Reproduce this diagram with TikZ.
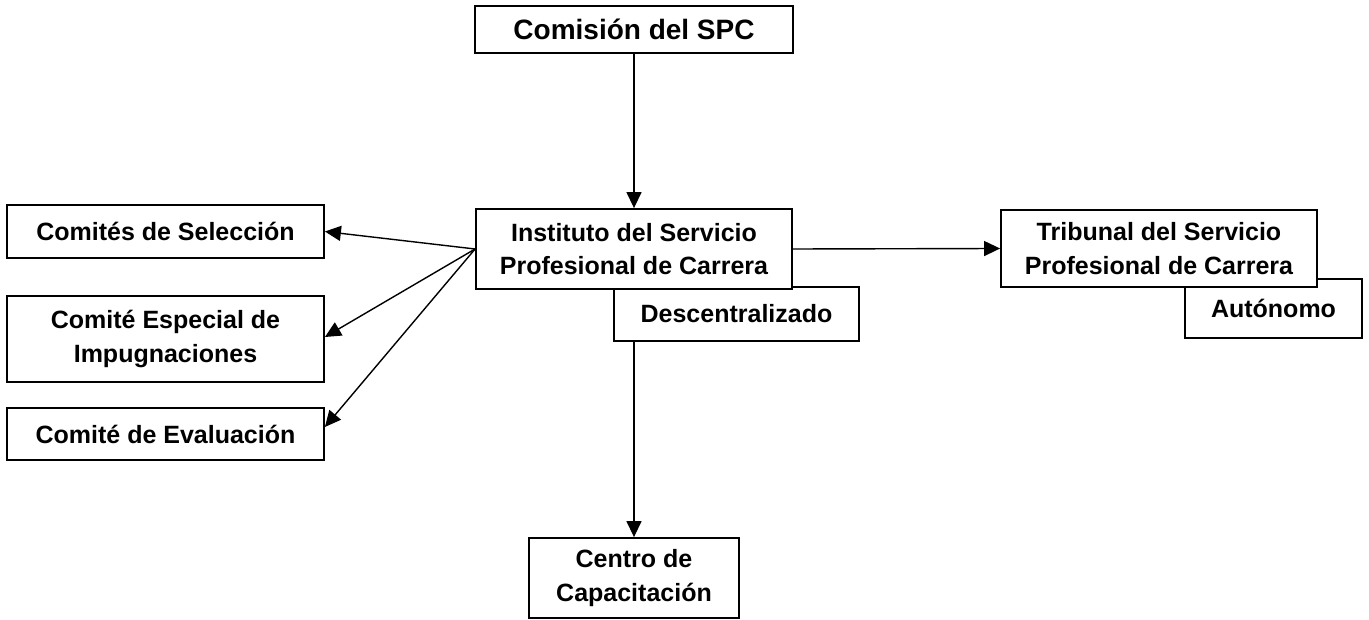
\documentclass[tikz,border=0pt]{standalone}
\usepackage{fontspec}
\setmainfont{Liberation Sans}
\usetikzlibrary{arrows.meta,calc}
\tikzset{
  box/.style={draw=black, line width=1.8pt, fill=white, inner sep=0pt, align=center,
    font=\fontsize{25}{33.7}\selectfont\bfseries},
  conn/.style={line width=1.4pt, -{Triangle[length=16pt,width=15pt]}},
  plain/.style={line width=1.4pt}
}
\begin{document}
\begin{tikzpicture}[x=1pt,y=-1pt]
\useasboundingbox (0,0) rectangle (1369,620);
% background boxes first
\node[box, minimum width=245pt, minimum height=54pt] (desc) at (736.5,314) {Descentralizado};
\node[box, minimum width=177pt, minimum height=59pt] (auto) at (1273.5,308.5) {Autónomo};
% main boxes
\node[box, minimum width=318pt, minimum height=47pt, font=\fontsize{28}{34}\selectfont\bfseries] (com) at (634,29.5) {Comisión del SPC};
\node[box, minimum width=316pt, minimum height=80pt] (inst) at (634,249) {Instituto del Servicio\\Profesional de Carrera};
\node[box, minimum width=316pt, minimum height=77pt] (trib) at (1159,248.5) {Tribunal del Servicio\\Profesional de Carrera};
\node[box, minimum width=317pt, minimum height=53pt] (sel) at (165.5,231.5) {Comités de Selección};
\node[box, minimum width=317pt, minimum height=86pt] (esp) at (165.5,339) {Comité Especial de\\Impugnaciones};
\node[box, minimum width=317pt, minimum height=52pt] (eval) at (165.5,434) {Comité de Evaluación};
\node[box, minimum width=210pt, minimum height=80pt] (cen) at (634,578) {Centro de\\Capacitación};
% connectors
\draw[conn] (com.south) -- (inst.north);
\draw[conn] (inst.west) -- (sel.east);
\draw[conn] (inst.west) -- ([yshift=2pt]esp.east);
\draw[conn] (inst.west) -- ([yshift=7pt]eval.east);
\draw[conn] (inst.east) -- (trib.west);
\draw[conn] (desc.south -| cen.north) -- (cen.north);
\end{tikzpicture}
\end{document}
